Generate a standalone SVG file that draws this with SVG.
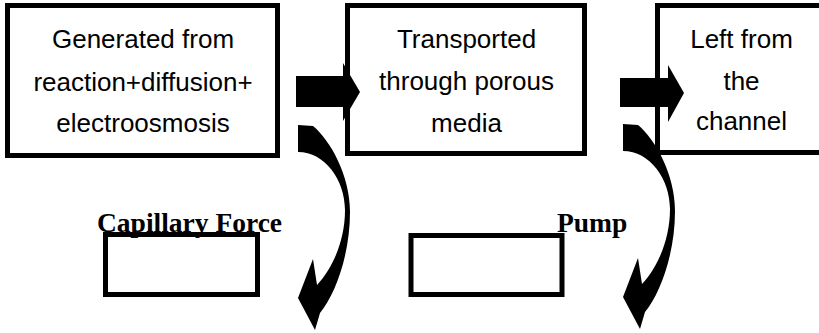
<svg xmlns="http://www.w3.org/2000/svg" width="819" height="333" viewBox="0 0 819 333">
<defs>
<style>
.box{fill:#fff;stroke:#000;stroke-width:5}
.t{font-family:"Liberation Sans",Arial,sans-serif;font-size:26px;fill:#000;text-anchor:middle}
.lbl{font-family:"Liberation Serif","Times New Roman",serif;font-size:27.5px;font-weight:bold;fill:#000}
.arr{fill:#000;stroke:none}
</style>
<path id="curved" d="M298,125 L313,126 C330,140 350,175 350,212 C350,255 335,295 320,313 L315,330 L298,298 L313,259 L317,285 C333,268 345,240 345,210 C345,180 325,152 298,152 Z"/>
</defs>
<g id="node-generated">
<rect class="box" x="7.5" y="5.5" width="270" height="150"/>
<text class="t" x="143" y="48">Generated from</text>
<text class="t" x="143" y="91">reaction+diffusion+</text>
<text class="t" x="143" y="132">electroosmosis</text>
</g>
<g id="node-transported">
<rect class="box" x="347.5" y="5.5" width="237" height="148"/>
<text class="t" x="466.5" y="48">Transported</text>
<text class="t" x="466.5" y="90">through porous</text>
<text class="t" x="466.5" y="132">media</text>
</g>
<g id="node-left">
<rect class="box" x="657.5" y="5.5" width="170" height="147"/>
<text class="t" x="741.5" y="48">Left from</text>
<text class="t" x="741.5" y="90">the</text>
<text class="t" x="741.5" y="130">channel</text>
</g>
<g id="node-capillary">
<rect class="box" x="105.5" y="234.5" width="152" height="60"/>
</g>
<g id="node-pump">
<rect class="box" x="411" y="235.5" width="151" height="59"/>
</g>
<g id="labels">
<text class="lbl" x="97" y="232">Capillary Force</text>
<text class="lbl" x="557" y="232">Pump</text>
</g>
<g id="connectors">
<path class="arr" d="M296,76 L343,76 L343,63 L360,92 L343,121 L343,107 L296,107 Z"/>
<path class="arr" d="M620,78 L668,78 L668,65 L684,93 L668,122 L668,107 L620,107 Z"/>
<use href="#curved" class="arr"/>
<use href="#curved" class="arr" transform="translate(325,-1)"/>
</g>
</svg>
